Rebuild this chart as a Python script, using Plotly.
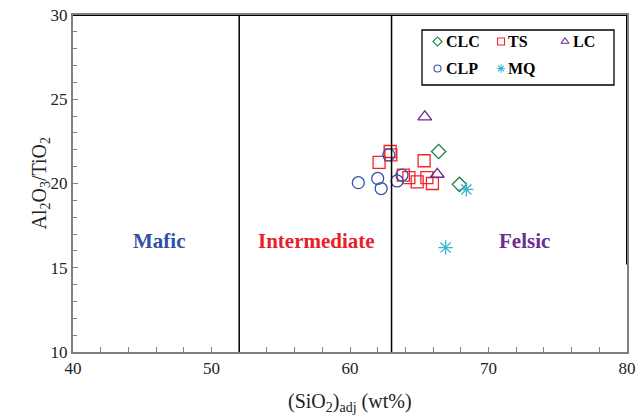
import plotly.graph_objects as go

# ---- data ----
clc_x = [66.4, 67.9]
clc_y = [21.9, 19.95]
ts_x = [62.1, 62.9, 62.95, 63.85, 64.25, 64.85, 65.35, 65.55, 65.95]
ts_y = [21.25, 21.9, 21.7, 20.5, 20.35, 20.1, 21.35, 20.35, 20.0]
lc_x = [65.4, 66.3]
lc_y = [23.95, 20.55]
clp_x = [60.6, 62.0, 62.25, 62.8, 63.4, 63.75]
clp_y = [20.05, 20.3, 19.7, 21.7, 20.15, 20.5]
mq_x = [68.4, 66.9]
mq_y = [19.65, 16.2]

series_names = ["CLC", "TS", "LC", "CLP", "MQ"]
boundaries = [52, 63]
field_labels = ["Mafic", "Intermediate", "Felsic"]
field_x = [46.2, 57.6, 72.6]
field_y = [16.6, 16.6, 16.6]
field_colors = ["#2f52a4", "#e8202a", "#6b2c92"]

series = [
    (series_names[0], clc_x, clc_y, "diamond-open", "#1b7f3e", 11),
    (series_names[1], ts_x, ts_y, "square-open", "#f0262a", 12),
    (series_names[2], lc_x, lc_y, "triangle-up-open", "#6b2c92", 12),
    (series_names[3], clp_x, clp_y, "circle-open", "#3553a8", 12),
    (series_names[4], mq_x, mq_y, "asterisk-open", "#3ab4d4", 12),
]

FONT = "Times New Roman, Liberation Serif, serif"
fig = go.Figure()

for name, xs, ys, sym, col, sz in series:
    fig.add_trace(go.Scatter(
        x=xs, y=ys, mode="markers", name=name, showlegend=False,
        marker=dict(symbol=sym, size=sz, color=col, line=dict(color=col, width=1.3)),
    ))

# hand-built legend: plot-area fractions (px -> fraction helpers)
W0, W = 73, 554
H0, H = 15, 337
fx = lambda px: (px - W0) / W
fy = lambda py: 1 - (py - H0) / H

leg_marker_px = [(437.5, 41.5), (501, 41.5), (565, 41.5), (437.5, 68.5), (501, 68.5)]
leg_text_px = [(444, 41.5), (506, 41.5), (571, 41.5), (444, 68.5), (506, 68.5)]

for (name, xs, ys, sym, col, sz), (mx, my), (tx, ty) in zip(series, leg_marker_px, leg_text_px):
    fig.add_trace(go.Scatter(
        x=[fx(mx)], y=[fy(my)], xaxis="x2", yaxis="y2", mode="markers",
        showlegend=False, hoverinfo="skip",
        marker=dict(symbol=sym, size=7, color=col, line=dict(color=col, width=1.1)),
    ))
    fig.add_annotation(x=fx(tx), y=fy(ty), xref="paper", yref="paper",
                       text="<b>%s</b>" % name, showarrow=False, xanchor="left",
                       yanchor="middle", font=dict(family=FONT, size=16, color="black"))

# legend box
fig.add_shape(type="rect", xref="paper", yref="paper",
              x0=fx(422), x1=fx(614), y0=fy(85), y1=fy(30),
              line=dict(color="black", width=1.3), fillcolor="rgba(0,0,0,0)")

# boundary lines
for b in boundaries:
    fig.add_shape(type="line", xref="x", yref="y", x0=b, x1=b, y0=10, y1=30,
                  line=dict(color="black", width=1.5))
# top border and partial right border
fig.add_shape(type="line", xref="x", yref="y", x0=40, x1=80, y0=30, y1=30,
              line=dict(color="black", width=2))
fig.add_shape(type="line", xref="x", yref="y", x0=80, x1=80, y0=15.2, y1=30,
              line=dict(color="black", width=2))

for lab, lx, ly, lc in zip(field_labels, field_x, field_y, field_colors):
    fig.add_annotation(x=lx, y=ly, xref="x", yref="y", text="<b>%s</b>" % lab,
                       showarrow=False, font=dict(family=FONT, size=21, color=lc))

# axis titles as annotations for exact placement
fig.add_annotation(x=fx(40), y=0.5, xref="paper", yref="paper", textangle=-90,
                   text="Al<sub>2</sub>O<sub>3</sub>/TiO<sub>2</sub>", showarrow=False,
                   xanchor="center", yanchor="middle",
                   font=dict(family=FONT, size=20, color="#222"))
fig.add_annotation(x=0.5, y=fy(402), xref="paper", yref="paper",
                   text="(SiO<sub>2</sub>)<sub>adj</sub> (wt%)", showarrow=False,
                   xanchor="center", yanchor="middle",
                   font=dict(family=FONT, size=20, color="#222"))

fig.update_layout(
    width=639, height=420,
    margin=dict(l=73, r=12, t=15, b=68),
    paper_bgcolor="white", plot_bgcolor="white",
    showlegend=False,
    font=dict(family=FONT, size=16, color="#222"),
    xaxis=dict(range=[40, 80], dtick=10, showgrid=False, zeroline=False, automargin=False,
               showline=True, linecolor="#808080", linewidth=2, mirror=True,
               ticks="inside", ticklen=5, tickcolor="#808080", tickwidth=1,
               ticklabeloverflow="allow",
               minor=dict(dtick=2, ticks="inside", ticklen=5, tickcolor="#808080", showgrid=False),
               tickfont=dict(family=FONT, size=17, color="#222")),
    yaxis=dict(range=[10, 30], dtick=5, showgrid=False, zeroline=False, automargin=False,
               showline=True, linecolor="#808080", linewidth=2, mirror=True,
               ticks="inside", ticklen=5, tickcolor="#808080", tickwidth=1,
               ticklabeloverflow="allow",
               minor=dict(dtick=1, ticks="inside", ticklen=4, tickcolor="#808080", showgrid=False),
               tickfont=dict(family=FONT, size=17, color="#222")),
    xaxis2=dict(overlaying="x", range=[0, 1], visible=False, fixedrange=True),
    yaxis2=dict(overlaying="y", range=[0, 1], visible=False, fixedrange=True),
)

fig.write_html(
    "out.html",
    config={"displayModeBar": False},
    post_script="document.body.style.margin='0';document.documentElement.style.overflow='hidden';document.body.style.overflow='hidden';",
)
